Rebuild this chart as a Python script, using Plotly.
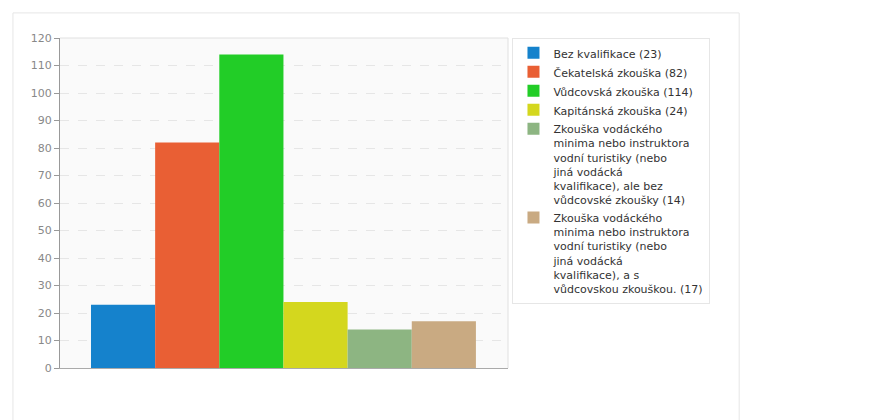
import plotly.graph_objects as go

labels = ["Bez kvalifikace (23)", "Čekatelská zkouška (82)", "Vůdcovská zkouška (114)",
          "Kapitánská zkouška (24)",
          "Zkouška vodáckého<br>minima nebo instruktora<br>vodní turistiky (nebo<br>jiná vodácká<br>kvalifikace), ale bez<br>vůdcovské zkoušky (14)",
          "Zkouška vodáckého<br>minima nebo instruktora<br>vodní turistiky (nebo<br>jiná vodácká<br>kvalifikace), a s<br>vůdcovskou zkouškou. (17)"]
values = [23, 82, 114, 24, 14, 17]
colors = ["#1582cc", "#e95f34", "#22cd27", "#d4d71e", "#8db582", "#c9aa82"]

fig = go.Figure()
for i, (l, v, c) in enumerate(zip(labels, values, colors)):
    fig.add_trace(go.Bar(x=[i], y=[v], name=l, width=1, marker=dict(color=c, line=dict(width=0))))

fig.update_layout(
    width=895, height=420, margin=dict(l=52, r=395, t=30, b=60, autoexpand=False),
    paper_bgcolor="white", plot_bgcolor="#fafafa",
    font=dict(family="DejaVu Sans", size=11, color="#333"),
    barmode="overlay", showlegend=True,
    legend=dict(x=1.01, y=1.0, xanchor="left", yanchor="top", bordercolor="#e6e6e6", borderwidth=1,
                font=dict(size=11, color="#333"), valign="top", itemwidth=30, tracegroupgap=0),
    xaxis=dict(range=[-0.983, 6.0], showticklabels=False, showgrid=False, zeroline=False,
               showline=True, linecolor="#aaa", mirror=False),
    yaxis=dict(range=[0, 120], dtick=10, showgrid=True, gridcolor="#e6e6e6", griddash="dash",
               zeroline=False, showline=True, linecolor="#999", ticks="outside", ticklen=5,
               tickcolor="#999", tickfont=dict(color="#888", size=11)),
    shapes=[dict(type="rect", xref="paper", yref="paper", x0=-0.105, x1=1.516, y0=-0.167, y1=1.076,
                 line=dict(color="#e6e6e6", width=1), layer="below"),
            dict(type="line", xref="paper", yref="paper", x0=0, x1=1, y0=1, y1=1,
                 line=dict(color="#e0e0e0", width=1)),
            dict(type="line", xref="paper", yref="paper", x0=1, x1=1, y0=0, y1=1,
                 line=dict(color="#e0e0e0", width=1))],
)
fig.write_html("out.html")
